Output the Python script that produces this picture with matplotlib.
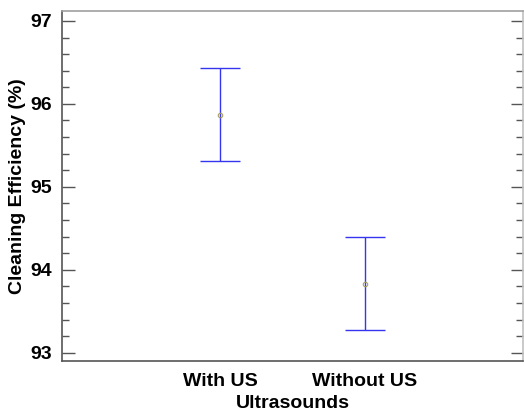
import matplotlib
matplotlib.use("Agg")
import matplotlib.pyplot as plt
from matplotlib.ticker import MultipleLocator

categories = ["With US", "Without US"]
means = [95.87, 93.83]
lower = [95.31, 93.27]
upper = [96.43, 94.39]

plt.rcParams['font.family'] = ['Liberation Sans', 'DejaVu Sans']

fig = plt.figure(figsize=(5.24, 4.17), dpi=100)
ax = fig.add_axes([62/524, 1 - 361/417, (523-62)/524, (361-11)/417])

xs = [1, 2]
err_lo = [m - l for m, l in zip(means, lower)]
err_hi = [u - m for m, u in zip(means, upper)]
ax.errorbar(xs, means, yerr=[err_lo, err_hi], fmt='none', ecolor='#3535f0',
            elinewidth=1.0, capsize=14.5, capthick=1.0)
ax.plot(xs, means, linestyle='none', marker='o', markersize=3.2,
        markerfacecolor='none', markeredgecolor='#a8a060', markeredgewidth=0.8)

ax.set_xlim(-0.09, 3.09)
ax.set_ylim(92.9, 97.12)
ax.set_xticks(xs)
ax.set_xticklabels(categories, fontsize=14, fontweight='bold')
ax.tick_params(axis='x', length=0, pad=9)
ax.yaxis.set_major_locator(MultipleLocator(1))
ax.yaxis.set_minor_locator(MultipleLocator(0.2))
ax.tick_params(axis='y', which='major', direction='in', length=9, width=1,
               color='#555555', right=True, labelsize=14, pad=7)
ax.tick_params(axis='y', which='minor', direction='in', length=5, width=1,
               color='#555555', right=True)
for lab in ax.get_yticklabels():
    lab.set_fontweight('bold')

ax.spines['left'].set_color('#555555')
ax.spines['bottom'].set_color('#555555')
ax.spines['top'].set_color('#a0a0a0')
ax.spines['right'].set_color('#c0c0c0')
for s in ax.spines.values():
    s.set_linewidth(1.2)

ax.set_xlabel("Ultrasounds", fontsize=14, fontweight='bold', labelpad=3)
ax.set_ylabel("Cleaning Efficiency (%)", fontsize=14, fontweight='bold', labelpad=3)

fig.savefig("out.png", dpi=100)
